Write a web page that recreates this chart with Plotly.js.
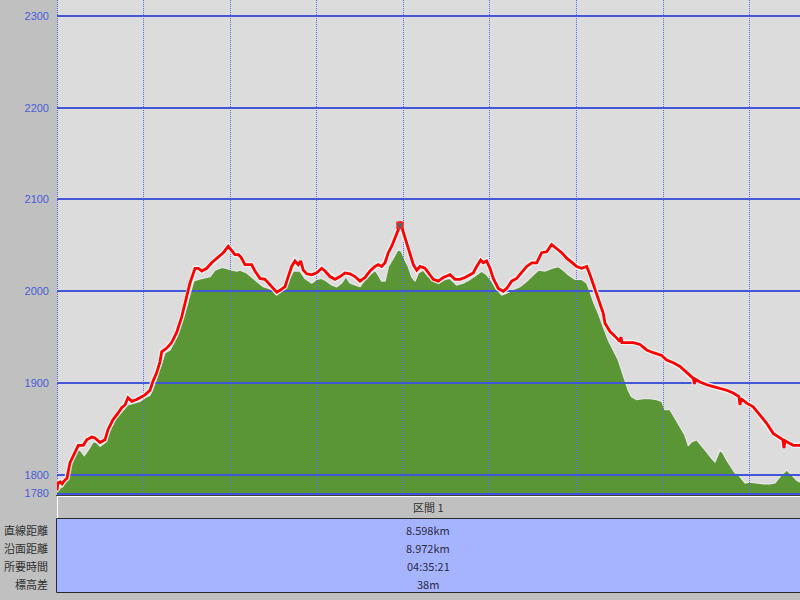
<!DOCTYPE html>
<html>
<head>
<meta charset="utf-8">
<script src="https://cdn.plot.ly/plotly-3.0.1.min.js"></script>
<style>html,body{margin:0;padding:0;background:#c0c0c0;}#chart{width:800px;height:600px;}</style>
</head>
<body>
<div id="chart"></div>
<script>
// ---- data (distance in km, elevation in m) ----
const trackKm = [0.000,0.012,0.035,0.058,0.081,0.115,0.150,0.188,0.246,0.304,0.343,0.401,0.439,0.497,0.554,0.589,0.647,0.704,0.747,0.785,0.820,0.863,0.920,0.978,1.016,1.074,1.109,1.151,1.189,1.209,1.267,1.324,1.382,1.440,1.498,1.536,1.594,1.632,1.671,1.729,1.786,1.863,1.920,1.978,2.017,2.055,2.094,2.125,2.171,2.248,2.286,2.344,2.402,2.460,2.498,2.537,2.575,2.633,2.671,2.710,2.748,2.786,2.814,2.844,2.883,2.941,2.999,3.057,3.095,3.152,3.210,3.268,3.326,3.383,3.441,3.499,3.557,3.614,3.672,3.710,3.749,3.788,3.826,3.865,3.903,3.941,3.961,3.999,4.038,4.076,4.115,4.154,4.192,4.249,4.288,4.345,4.403,4.461,4.538,4.596,4.654,4.711,4.769,4.807,4.846,4.893,4.923,4.962,5.000,5.038,5.096,5.154,5.193,5.251,5.308,5.366,5.424,5.482,5.539,5.597,5.655,5.712,5.770,5.828,5.886,5.943,6.001,6.059,6.117,6.155,6.193,6.232,6.270,6.308,6.328,6.386,6.443,6.501,6.513,6.524,6.578,6.655,6.732,6.809,6.886,6.983,7.040,7.117,7.194,7.271,7.348,7.361,7.373,7.425,7.502,7.579,7.656,7.733,7.809,7.875,7.887,7.898,7.964,8.040,8.118,8.195,8.271,8.349,8.383,8.395,8.406,8.426,8.502,8.580];
const trackElev = [1783,1791,1792,1790,1793,1796,1813,1820,1832,1832,1838,1841,1840,1835,1838,1849,1860,1867,1873,1876,1884,1880,1882,1885,1887,1892,1902,1911,1923,1934,1938,1944,1955,1972,1994,2009,2025,2025,2022,2025,2031,2037,2042,2049,2045,2040,2040,2037,2029,2029,2022,2014,2013,2007,2002,1999,2001,2005,2016,2027,2033,2029,2033,2023,2019,2018,2020,2025,2022,2016,2013,2016,2020,2019,2016,2011,2015,2022,2027,2029,2027,2031,2042,2049,2058,2067,2076,2064,2051,2040,2029,2023,2027,2025,2020,2013,2011,2015,2018,2013,2013,2015,2018,2020,2027,2034,2031,2033,2025,2014,2003,2000,2003,2011,2014,2020,2027,2031,2031,2042,2043,2051,2047,2042,2036,2031,2027,2025,2027,2018,2007,1996,1987,1976,1965,1956,1951,1945,1950,1944,1944,1944,1942,1936,1933,1930,1925,1922,1918,1911,1905,1899,1904,1901,1898,1896,1894,1892,1889,1885,1876,1883,1878,1874,1865,1856,1845,1840,1838,1829,1837,1836,1832,1832];

const terrainKm = [0.000,0.054,0.112,0.170,0.208,0.266,0.315,0.361,0.419,0.458,0.497,0.554,0.612,0.689,0.747,0.805,0.881,0.958,1.016,1.074,1.132,1.170,1.209,1.247,1.305,1.382,1.440,1.498,1.536,1.574,1.632,1.709,1.767,1.824,1.902,1.960,2.017,2.075,2.113,2.191,2.286,2.382,2.479,2.537,2.613,2.671,2.729,2.806,2.864,2.941,2.999,3.057,3.114,3.172,3.230,3.287,3.337,3.383,3.441,3.499,3.557,3.614,3.672,3.710,3.749,3.788,3.826,3.883,3.941,3.980,4.018,4.057,4.096,4.134,4.172,4.230,4.288,4.327,4.403,4.480,4.538,4.615,4.692,4.769,4.846,4.904,4.962,5.020,5.077,5.135,5.193,5.269,5.346,5.424,5.500,5.558,5.635,5.712,5.789,5.847,5.904,5.982,6.059,6.117,6.155,6.193,6.251,6.308,6.366,6.424,6.482,6.520,6.559,6.597,6.636,6.694,6.770,6.848,6.925,6.983,7.021,7.079,7.136,7.194,7.252,7.290,7.329,7.387,7.445,7.502,7.560,7.598,7.656,7.694,7.733,7.791,7.829,7.887,7.945,8.002,8.080,8.156,8.233,8.291,8.349,8.426,8.484,8.542,8.580];
const terrainElev = [1781,1787,1794,1816,1825,1827,1821,1827,1836,1835,1831,1835,1849,1863,1871,1876,1878,1880,1884,1887,1900,1911,1922,1933,1936,1951,1966,1985,2002,2011,2013,2015,2016,2023,2026,2025,2023,2022,2023,2020,2013,2005,2002,1996,2002,2011,2022,2022,2014,2009,2013,2014,2011,2007,2005,2009,2016,2009,2007,2005,2013,2018,2023,2018,2011,2011,2027,2036,2046,2043,2034,2027,2016,2011,2020,2023,2016,2014,2009,2013,2014,2007,2009,2013,2018,2022,2018,2011,2002,1996,1998,2002,2005,2011,2018,2023,2022,2025,2027,2023,2018,2013,2013,2009,2000,1989,1976,1962,1947,1936,1925,1914,1903,1892,1885,1882,1883,1883,1882,1880,1871,1871,1862,1852,1843,1832,1836,1838,1832,1825,1818,1814,1827,1823,1816,1807,1802,1798,1791,1792,1791,1790,1790,1791,1798,1805,1800,1794,1792];

const peakKm = [3.961];
const peakElev = [2072];

const yTicks = [1780, 1800, 1900, 2000, 2100, 2200, 2300];
const xGrid = [1, 2, 3, 4, 5, 6, 7, 8];

const headerText = '区間 1';
const rowLabels = ['直線距離', '沿面距離', '所要時間', '標高差'];
const rowValues = ['8.598km', '8.972km', '04:35:21', '38m'];

// ---- layout helpers (pixels -> paper) ----
const W = 800, H = 600, L = 57, B = 107;
const PW = W - L, PH = H - B;
const px = v => (v - L) / PW;
const py = v => (PH - v) / PH;

const xRange = [0, 8.58];
const yRange = [1780, 2317.5];

const traces = [
  { x: terrainKm, y: terrainElev, xaxis: 'x', yaxis: 'y', type: 'scatter', mode: 'lines',
    fill: 'tozeroy', fillcolor: '#5a9636', line: { color: '#e4e4e4', width: 1.5 }, hoverinfo: 'skip' },
  { x: trackKm, y: trackElev, xaxis: 'x2', yaxis: 'y2', type: 'scatter', mode: 'lines',
    line: { color: 'rgba(245,245,245,0.85)', width: 5.5 }, hoverinfo: 'skip' },
  { x: trackKm, y: trackElev, xaxis: 'x2', yaxis: 'y2', type: 'scatter', mode: 'lines',
    line: { color: '#ff0000', width: 2.8 }, hoverinfo: 'skip' },
  { x: peakKm, y: peakElev, xaxis: 'x2', yaxis: 'y2', type: 'scatter', mode: 'markers',
    marker: { symbol: 'square', size: 6, color: '#606060', line: { color: '#ff2020', width: 1.5 } }, hoverinfo: 'skip' }
];

const shapes = [
  { type: 'rect', xref: 'paper', yref: 'paper', x0: 0, x1: 1, y0: 0, y1: 1,
    fillcolor: '#dcdcdc', line: { width: 0 }, layer: 'below' },
  { type: 'line', xref: 'paper', yref: 'paper', x0: px(57.5), x1: px(57.5), y0: 0, y1: 1,
    line: { color: '#4a5ce0', width: 1, dash: '1px,1px' }, layer: 'below' },
  // header row
  { type: 'line', xref: 'paper', yref: 'paper', x0: px(56), x1: px(801), y0: py(495.5), y1: py(495.5),
    line: { color: '#404040', width: 1 } },
  { type: 'rect', xref: 'paper', yref: 'paper', x0: px(57), x1: px(801), y0: py(518), y1: py(496),
    fillcolor: '#c0c0c0', line: { width: 0 } },
  { type: 'line', xref: 'paper', yref: 'paper', x0: px(57), x1: px(801), y0: py(496.5), y1: py(496.5),
    line: { color: '#ffffff', width: 1 } },
  { type: 'line', xref: 'paper', yref: 'paper', x0: px(57.5), x1: px(57.5), y0: py(496), y1: py(518),
    line: { color: '#ffffff', width: 1 } },
  // value area
  { type: 'rect', xref: 'paper', yref: 'paper', x0: px(56.5), x1: px(802), y0: py(592.5), y1: py(518.5),
    fillcolor: '#a6b4ff', line: { color: '#2a2a2a', width: 1 } }
];

const annotations = [
  { xref: 'paper', yref: 'paper', x: px(428), y: py(507), text: headerText, showarrow: false,
    xanchor: 'center', yanchor: 'middle', font: { family: 'Noto Sans CJK JP', size: 11, color: '#303030' } }
];
rowLabels.forEach((t, i) => {
  annotations.push({ xref: 'paper', yref: 'paper', x: px(50), y: py(530 + 18 * i), text: t, showarrow: false,
    xanchor: 'right', yanchor: 'middle', font: { family: 'Noto Sans CJK JP', size: 11, color: '#303030' } });
});
rowValues.forEach((t, i) => {
  annotations.push({ xref: 'paper', yref: 'paper', x: px(428), y: py(530 + 18 * i), text: t, showarrow: false,
    xanchor: 'center', yanchor: 'middle', font: { family: 'Noto Sans CJK JP', size: 11, color: '#2c2c44' } });
});

const layout = {
  width: W, height: H,
  margin: { l: L, r: 0, t: 0, b: B, pad: 0 },
  paper_bgcolor: '#c0c0c0',
  plot_bgcolor: 'rgba(0,0,0,0)',
  showlegend: false,
  hovermode: false,
  xaxis: { domain: [0, 1], anchor: 'y', range: xRange, showgrid: false, zeroline: false,
    showticklabels: false, showline: false, ticks: '', fixedrange: true },
  yaxis: { domain: [0, 1], anchor: 'x', range: yRange, showgrid: false, zeroline: false,
    showticklabels: false, showline: false, ticks: '', fixedrange: true },
  xaxis2: { domain: [0, 1], anchor: 'y2', range: xRange, tickmode: 'array', tickvals: xGrid,
    showgrid: true, gridcolor: '#5a6cf4', gridwidth: 1, griddash: '1px,1px', zeroline: false,
    showticklabels: false, ticks: '', showline: true, linecolor: '#3f54d6', linewidth: 2, fixedrange: true },
  yaxis2: { domain: [0, 1], anchor: 'x2', range: yRange, tickmode: 'array', tickvals: yTicks,
    ticktext: yTicks.map(String), showgrid: true, gridcolor: '#4256d8', gridwidth: 2, zeroline: false,
    showline: false, ticks: '', ticklabelstandoff: 7,
    tickfont: { family: 'Liberation Sans', size: 11, color: '#4a5cd6' }, fixedrange: true },
  shapes: shapes,
  annotations: annotations
};

Plotly.newPlot('chart', traces, layout, { staticPlot: true, displayModeBar: false });
</script>
</body>
</html>
